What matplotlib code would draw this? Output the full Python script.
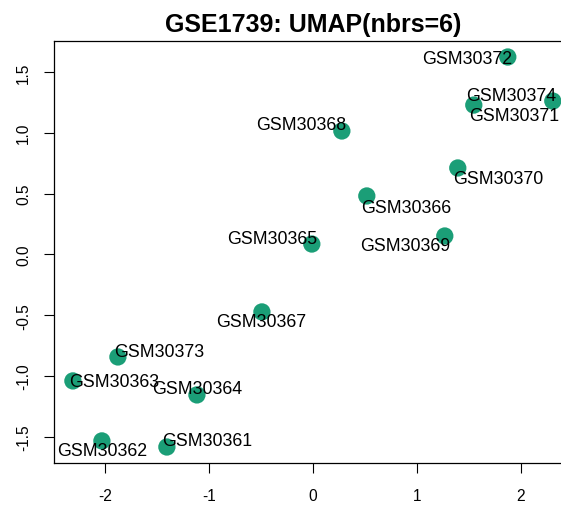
import matplotlib
matplotlib.use("Agg")
import matplotlib.pyplot as plt
import numpy as np

plt.rcParams['font.family'] = ['Liberation Sans', 'DejaVu Sans']

# UMAP coordinates
samples = ['GSM30372', 'GSM30374', 'GSM30371', 'GSM30368', 'GSM30370',
           'GSM30366', 'GSM30369', 'GSM30365', 'GSM30367', 'GSM30373',
           'GSM30363', 'GSM30364', 'GSM30362', 'GSM30361']
umap_x = [1.875, 2.308, 1.548, 0.279, 1.394, 0.519, 1.269, -0.010,
          -0.490, -1.875, -2.308, -1.115, -2.029, -1.404]
umap_y = [1.623, 1.261, 1.228, 1.015, 0.711, 0.481, 0.152, 0.086,
          -0.472, -0.842, -1.039, -1.154, -1.532, -1.582]

# label offsets from the point, in pixels (right, down)
label_off = [(-41, 0), (-42, -8), (40, 8), (-41, -8), (40, 9),
             (39, 10), (-40, 8), (-40, -8), (-1, 8), (41, -7),
             (41, -1), (0, -8), (0, 8), (40, -8)]

W, H = 561, 506
fig = plt.figure(figsize=(W / 100, H / 100), dpi=100)
# plot region (pixels), right edge runs past the image like the reference
left, right, top, bottom = 53.7, 572, 42.4, 463.6
ax = fig.add_axes([left / W, 1 - bottom / H, (right - left) / W, (bottom - top) / H])

ax.scatter(umap_x, umap_y, s=155, color='#1B9E77', edgecolors='none', zorder=2)
for name, x, y, (dx, dy) in zip(samples, umap_x, umap_y, label_off):
    ax.annotate(name, (x, y), xytext=(dx * 0.72, -(dy + 2) * 0.72), textcoords='offset points',
                ha='center', va='center', fontsize=12.8, color='black', zorder=3)

# R style 4% padding
xr = max(umap_x) - min(umap_x)
yr = max(umap_y) - min(umap_y)
ax.set_xlim(min(umap_x) - 0.04 * xr, max(umap_x) + 0.04 * xr)
ax.set_ylim(min(umap_y) - 0.04 * yr, max(umap_y) + 0.04 * yr)

ax.set_xticks([-2, -1, 0, 1, 2])
ax.set_yticks([-1.5, -1.0, -0.5, 0.0, 0.5, 1.0, 1.5])
ax.set_xticklabels(['-2', '-1', '0', '1', '2'])
ax.set_yticklabels(['-1.5', '-1.0', '-0.5', '0.0', '0.5', '1.0', '1.5'])
ax.tick_params(direction='out', length=7.2, width=0.8, labelsize=11.2, color='black')
ax.tick_params(axis='x', pad=11)
ax.tick_params(axis='y', pad=9)
for lab in ax.get_yticklabels():
    lab.set_rotation(90)
    lab.set_va('center')
for sp in ax.spines.values():
    sp.set_linewidth(0.9)
    sp.set_color('black')

fig.text((left + right) / 2 / W, 1 - 25 / H, 'GSE1739: UMAP(nbrs=6)',
         ha='center', va='center', fontsize=18, fontweight='bold')

fig.savefig('out.png', dpi=100)
